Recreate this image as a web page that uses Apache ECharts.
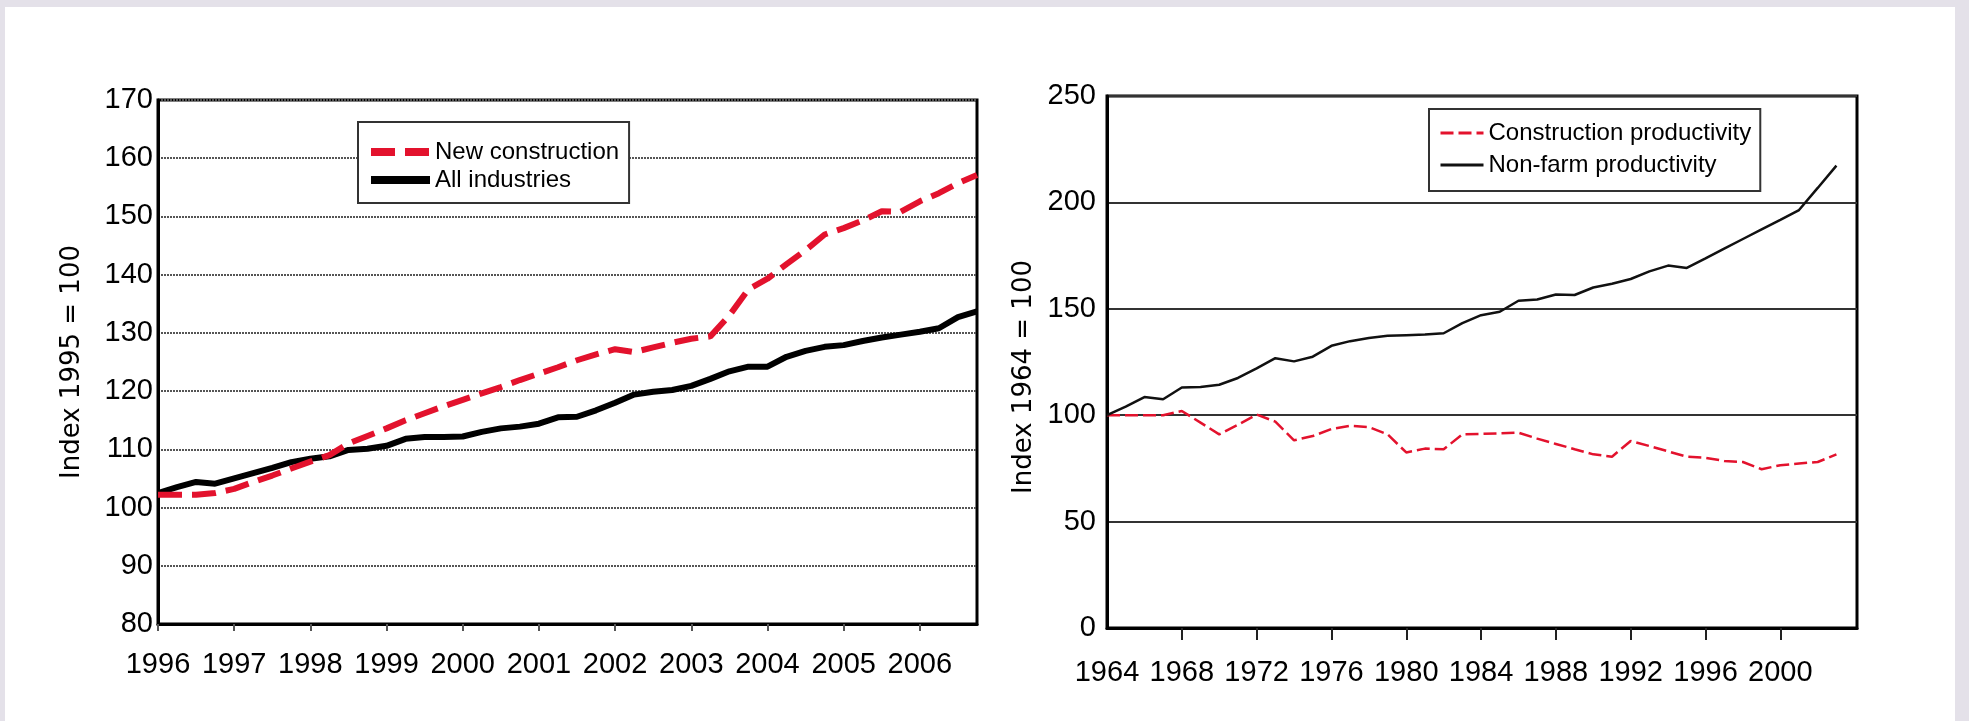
<!DOCTYPE html>
<html>
<head>
<meta charset="utf-8">
<script src="https://cdn.jsdelivr.net/npm/echarts@6/dist/echarts.min.js"></script>
<style>
  html, body { margin: 0; padding: 0; background: #fff; }
  #chart { width: 1969px; height: 721px; }
</style>
</head>
<body>
<div id="chart"></div>
<script>
  // left panel: quarterly index, 1995 = 100
  const years = [1996, 1997, 1998, 1999, 2000, 2001, 2002, 2003, 2004, 2005, 2006];
  const quarters = years.flatMap(y => ['Q1', 'Q2', 'Q3', 'Q4'].map(q => y + ' ' + q));
  const newConstruction = [102.2, 102.2, 102.2, 102.5, 103.2, 104.4, 105.5, 106.7, 107.9, 109.0,
    111.0, 112.3, 113.6, 115.0, 116.2, 117.4, 118.5, 119.6, 120.7, 121.9,
    123.0, 124.1, 125.3, 126.3, 127.2, 126.7, 127.5, 128.3, 129.0, 129.4,
    133.0, 137.5, 139.3, 141.8, 144.2, 146.9, 148.0, 149.3, 150.9, 150.8,
    152.6, 154.0, 155.7, 157.1];
  const allIndustries = [102.5, 103.5, 104.4, 104.1, 105.0, 105.9, 106.8, 107.8, 108.4, 108.8,
    109.9, 110.1, 110.6, 111.8, 112.1, 112.1, 112.2, 113.0, 113.6, 113.9,
    114.4, 115.5, 115.6, 116.7, 118.0, 119.4, 119.9, 120.2, 120.9, 122.1,
    123.4, 124.2, 124.2, 125.9, 126.9, 127.6, 127.9, 128.6, 129.2, 129.7,
    130.2, 130.8, 132.7, 133.7];

  // right panel: annual index, 1964 = 100
  const prodYears = [1964, 1965, 1966, 1967, 1968, 1969, 1970, 1971, 1972, 1973,
    1974, 1975, 1976, 1977, 1978, 1979, 1980, 1981, 1982, 1983,
    1984, 1985, 1986, 1987, 1988, 1989, 1990, 1991, 1992, 1993,
    1994, 1995, 1996, 1997, 1998, 1999, 2000, 2001, 2002, 2003];
  const constructionProd = [100, 100, 100, 100, 102, 96.5, 91, 95.5, 100.3, 97,
    88.2, 90.2, 93.5, 95, 94.4, 91, 82.5, 84.3, 84, 91,
    91.2, 91.5, 91.8, 89, 86.5, 84, 81.6, 80.5, 87.9, 85.5,
    83, 80.5, 80, 78.5, 78, 74.6, 76.5, 77.3, 78, 81.6];
  const nonFarmProd = [100, 104, 108.5, 107.5, 113, 113.3, 114.3, 117.5, 122, 126.8,
    125.3, 127.5, 132.6, 134.8, 136.3, 137.3, 137.6, 137.9, 138.5, 143.3,
    147, 148.6, 153.8, 154.4, 156.7, 156.5, 160, 161.8, 164, 167.6,
    170.3, 169.2, 173.7, 178.3, 182.8, 187.3, 191.8, 196.4, 206.8, 217.3];
  const prodTickLabels = [1964, 1968, 1972, 1976, 1980, 1984, 1988, 1992, 1996, 2000];
  const prodTicks = [1968, 1972, 1976, 1980, 1984, 1988, 1992, 1996, 2000];

  const labelFont = '"Liberation Sans", Arial, sans-serif';
  const titleFont = '"DejaVu Sans", Verdana, sans-serif';
  const red = '#e3122d';

  let myChart = echarts.init(document.getElementById('chart'));
  myChart.setOption({
    animation: false,
    backgroundColor: '#fff',
    graphic: [
      { type: 'rect', shape: { x: 0, y: 0, width: 1969, height: 7 }, style: { fill: '#e4e1e9' } },
      { type: 'rect', shape: { x: 0, y: 0, width: 5, height: 721 }, style: { fill: '#e4e1e9' } },
      { type: 'rect', shape: { x: 1955, y: 0, width: 14, height: 721 }, style: { fill: '#e4e1e9' } }
    ],
    grid: [
      { left: 158, top: 100, width: 819, height: 524, show: true, borderColor: '#000', borderWidth: 3 },
      { left: 1107, top: 96, width: 750, height: 532, show: true, borderColor: '#000', borderWidth: 3 }
    ],
    legend: [
      {
        data: ['New construction', 'All industries'],
        orient: 'vertical',
        left: 358,
        top: 122,
        padding: [18, 10, 11, 9],
        itemGap: 4,
        itemWidth: 59,
        itemHeight: 24,
        borderColor: '#333',
        borderWidth: 2,
        backgroundColor: '#fff',
        selectedMode: false,
        itemStyle: { color: 'rgba(0,0,0,0)', borderWidth: 0, opacity: 0 },
        lineStyle: { width: 8 },
        textStyle: { fontFamily: labelFont, fontSize: 24, lineHeight: 24, color: '#000' }
      },
      {
        data: ['Construction productivity', 'Non-farm productivity'],
        orient: 'vertical',
        left: 1429,
        top: 109,
        padding: [12, 9, 14, 10],
        itemGap: 8,
        itemWidth: 43,
        itemHeight: 24,
        borderColor: '#333',
        borderWidth: 2,
        backgroundColor: '#fff',
        selectedMode: false,
        itemStyle: { color: 'rgba(0,0,0,0)', borderWidth: 0, opacity: 0 },
        lineStyle: { width: 3 },
        textStyle: { fontFamily: labelFont, fontSize: 24, lineHeight: 24, color: '#000' }
      }
    ],
    xAxis: [
      {
        gridIndex: 0,
        type: 'category',
        data: quarters,
        boundaryGap: false,
        axisLine: { lineStyle: { color: '#000', width: 3 } },
        axisTick: { interval: 3, length: 7, lineStyle: { color: '#555', width: 2 } },
        axisLabel: {
          interval: 3,
          margin: 26,
          fontFamily: labelFont,
          fontSize: 29,
          color: '#000',
          formatter: v => v.slice(0, 4)
        },
        splitLine: { show: false }
      },
      {
        gridIndex: 1,
        type: 'value',
        min: 1964,
        max: 2004.1,
        axisLine: { lineStyle: { color: '#000', width: 3 } },
        axisTick: { customValues: prodTicks, length: 12, lineStyle: { color: '#222', width: 2 } },
        axisLabel: {
          customValues: prodTickLabels,
          margin: 30,
          fontFamily: labelFont,
          fontSize: 29,
          color: '#000',
          formatter: v => String(v)
        },
        splitLine: { show: false }
      }
    ],
    yAxis: [
      {
        gridIndex: 0,
        type: 'value',
        min: 80,
        max: 170,
        interval: 10,
        name: 'Index 1995 = 100',
        nameLocation: 'middle',
        nameGap: 73,
        nameTextStyle: { fontFamily: titleFont, fontSize: 26, color: '#000' },
        axisLine: { show: true, lineStyle: { color: '#000', width: 3 } },
        axisTick: { show: false },
        axisLabel: { margin: 5, fontFamily: labelFont, fontSize: 29, color: '#000' },
        splitLine: { lineStyle: { type: [2, 1], color: '#555', width: 2 } }
      },
      {
        gridIndex: 1,
        type: 'value',
        min: 0,
        max: 250,
        interval: 50,
        name: 'Index 1964 = 100',
        nameLocation: 'middle',
        nameGap: 70,
        nameTextStyle: { fontFamily: titleFont, fontSize: 26, color: '#000', padding: [0, 30, 0, 0] },
        axisLine: { show: true, lineStyle: { color: '#000', width: 3 } },
        axisTick: { show: false },
        axisLabel: { margin: 11, fontFamily: labelFont, fontSize: 29, color: '#000' },
        splitLine: { lineStyle: { color: '#333', width: 2 } }
      }
    ],
    series: [
      {
        name: 'All industries',
        type: 'line',
        xAxisIndex: 0,
        yAxisIndex: 0,
        data: allIndustries,
        symbol: 'none',
        itemStyle: { color: '#000' },
        lineStyle: { color: '#000', width: 6 }
      },
      {
        name: 'New construction',
        type: 'line',
        xAxisIndex: 0,
        yAxisIndex: 0,
        data: newConstruction,
        symbol: 'none',
        itemStyle: { color: red },
        lineStyle: { color: red, width: 6, type: [24, 10] }
      },
      {
        name: 'Construction productivity',
        type: 'line',
        xAxisIndex: 1,
        yAxisIndex: 1,
        data: prodYears.map((y, i) => [y, constructionProd[i]]),
        symbol: 'none',
        itemStyle: { color: red },
        lineStyle: { color: red, width: 2.5, type: [13, 5] }
      },
      {
        name: 'Non-farm productivity',
        type: 'line',
        xAxisIndex: 1,
        yAxisIndex: 1,
        data: prodYears.map((y, i) => [y, nonFarmProd[i]]),
        symbol: 'none',
        itemStyle: { color: '#111' },
        lineStyle: { color: '#111', width: 2.5 }
      }
    ]
  });
</script>
</body>
</html>
